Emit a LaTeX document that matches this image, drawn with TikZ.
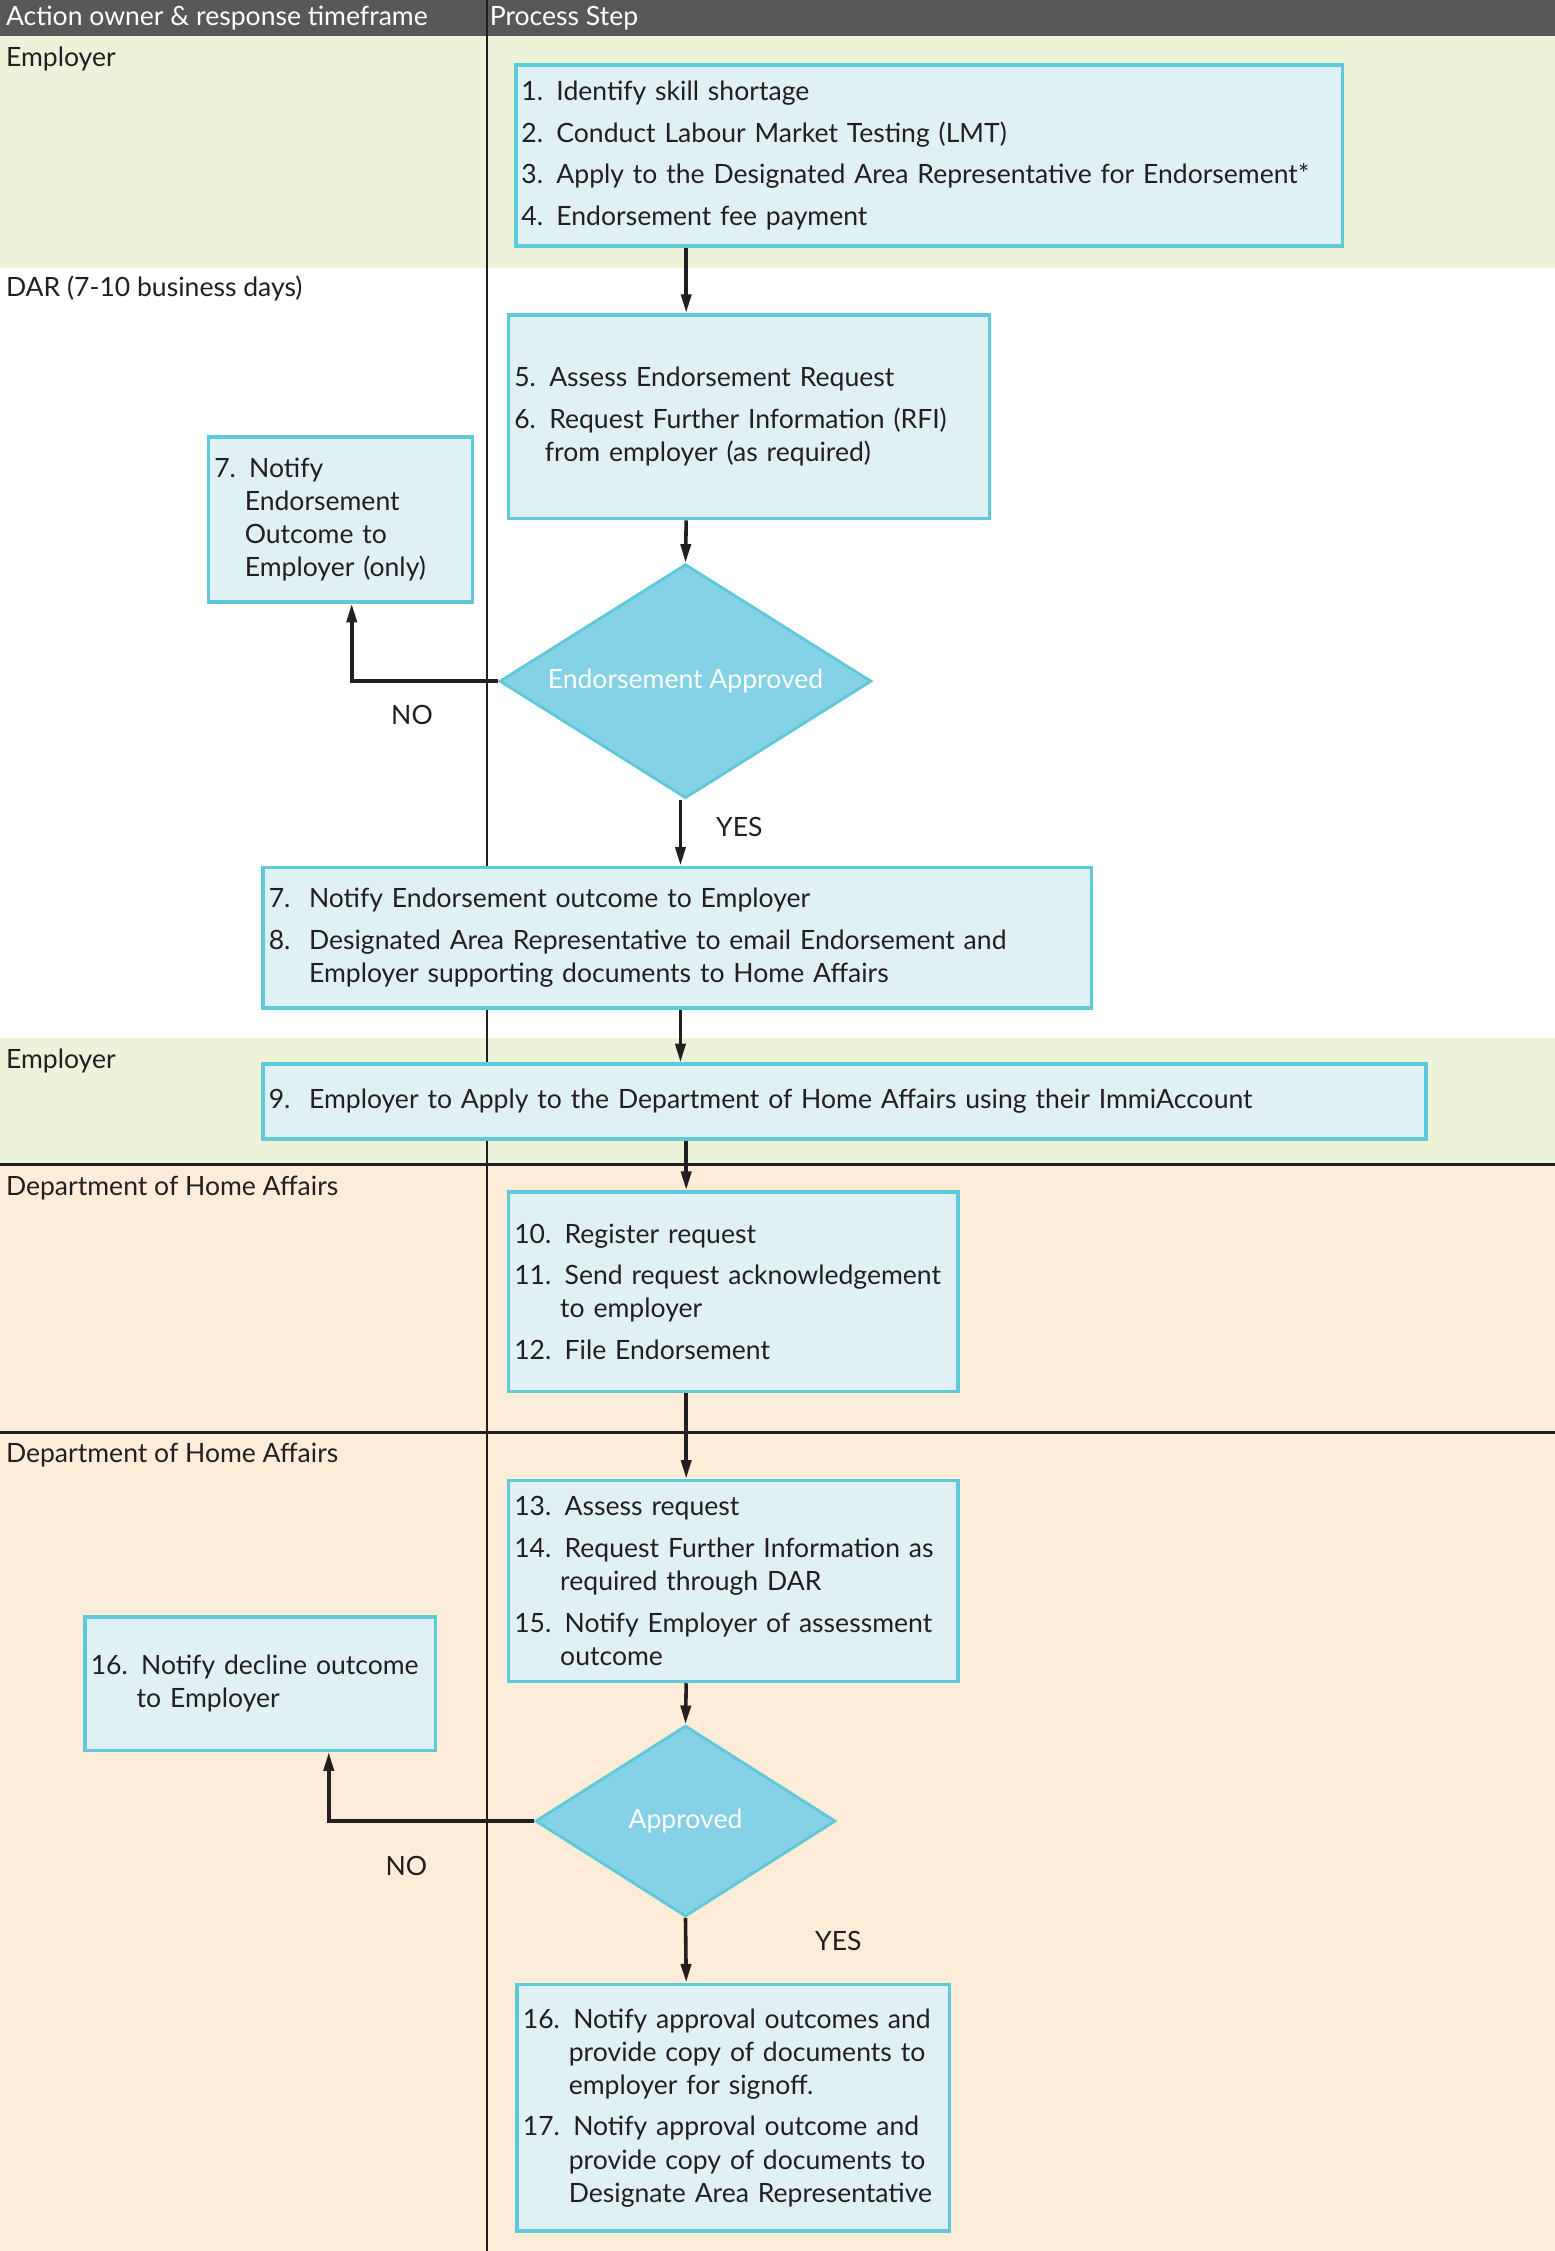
\documentclass[tikz,border=0pt]{standalone}
\usepackage{fontspec}
\setmainfont{Lato}
\usepackage{tikz}
\usetikzlibrary{shapes.geometric}
\usetikzlibrary{positioning}
\usetikzlibrary{arrows.meta}
\usepackage{xcolor}
\definecolor{hdrgray}{RGB}{88,88,90}
\definecolor{empgreen}{RGB}{236,243,216}
\definecolor{dhapeach}{RGB}{253,236,216}
\definecolor{boxfill}{RGB}{223,241,245}
\definecolor{boxline}{RGB}{96,201,217}
\definecolor{dfill}{RGB}{133,210,230}
\definecolor{inkc}{RGB}{35,31,32}
\newcommand{\ind}[1]{\phantom{#1~}}
\newcommand{\numcol}[1]{\makebox[28pt][l]{#1}}

\begin{document}
\begin{tikzpicture}[x=1pt,y=-1pt,
  every node/.style={font=\fontsize{18.5}{23}\selectfont,text=inkc},
  lane/.style={anchor=mid west,inner sep=0pt},
  stepbox/.style={draw=boxline,fill=boxfill,line width=2.5pt,anchor=north west,align=left,inner xsep=4pt,inner ysep=2pt},
  decision/.style={diamond,draw=boxline,fill=dfill,line width=2pt,inner sep=0pt,aspect=1.6,text=white},
  flow/.style={line width=2.5pt,draw=inkc,-{Triangle[length=13pt,width=7pt]}},
  ans/.style={inner sep=0pt}]
\useasboundingbox (0,0) rectangle (1083,1568);
% lanes
\fill[hdrgray] (0,0) rectangle (1083,25);
\fill[empgreen] (0,25) rectangle (1083,187);
\fill[empgreen] (0,723) rectangle (1083,811);
\fill[dhapeach] (0,811) rectangle (1083,1568);
\draw[inkc,line width=1.5pt] (339,0)--(339,1568);
\draw[inkc,line width=2pt] (0,811)--(1083,811);
\draw[inkc,line width=2pt] (0,998)--(1083,998);
\node[lane,text=white] (hdrowner) at (4,15.5) {Action owner \& response timeframe};
\node[lane,text=white] (hdrstep) at (341,15.5) {Process Step};
\node[lane] (laneemp) at (4,44) {Employer};
\node[lane] (lanedar) at (4,204) {DAR (7-10 business days)};
\node[lane] (laneempb) at (4,742) {Employer};
\node[lane] (lanedha) at (4,830) {Department of Home Affairs};
\node[lane] (lanedhab) at (4,1016) {Department of Home Affairs};

% steps
\node[stepbox,text width=568,minimum height=126] (apply) at (358,44)
  {1. Identify skill shortage\\[6pt]
   2. Conduct Labour Market Testing (LMT)\\[6pt]
   3. Apply to the Designated Area Representative for Endorsement*\\[6pt]
   4. Endorsement fee payment};
\node[stepbox,text width=327,minimum height=142] (assess) at (353,218)
  {5. Assess Endorsement Request\\[6pt]
   6. Request Further Information (RFI)\\
   \ind{6.}from employer (as required)};
\node[stepbox,text width=176,minimum height=115] (notifyno) at (144,303)
  {7. Notify\\
   \ind{7.}Endorsement\\
   \ind{7.}Outcome to\\
   \ind{7.}Employer (only)};
\node[decision,minimum width=259,minimum height=163] (endapp) at (477.5,474.5) {Endorsement Approved};
\node[stepbox,text width=569,minimum height=98] (notifyyes) at (182,603)
  {\numcol{7.}Notify Endorsement outcome to Employer\\[6pt]
   \numcol{8.}Designated Area Representative to email Endorsement and\\
   \numcol{}Employer supporting documents to Home Affairs};
\node[stepbox,text width=802,minimum height=52] (immi) at (182,740)
  {\numcol{9.}Employer to Apply to the Department of Home Affairs using their ImmiAccount};
\node[stepbox,text width=305,minimum height=139] (register) at (353,829)
  {10. Register request\\[6pt]
   11. Send request acknowledgement\\
   \ind{11.}to employer\\[6pt]
   12. File Endorsement};
\node[stepbox,text width=305,minimum height=140] (assessdha) at (353,1030)
  {13. Assess request\\[6pt]
   14. Request Further Information as\\
   \ind{14.}required through DAR\\[6pt]
   15. Notify Employer of assessment\\
   \ind{15.}outcome};
\node[stepbox,text width=236,minimum height=93] (decline) at (58,1125)
  {16. Notify decline outcome\\
   \ind{16.}to Employer};
\node[decision,minimum width=209,minimum height=133] (appr) at (477.5,1268.5) {Approved};
\node[stepbox,text width=293,minimum height=172] (grant) at (359,1381)
  {16. Notify approval outcomes and\\
   \ind{16.}provide copy of documents to\\
   \ind{16.}employer for signoff.\\[6pt]
   17. Notify approval outcome and\\
   \ind{17.}provide copy of documents to\\
   \ind{17.}Designate Area Representative};

% flow
\coordinate (spine) at (478,0);
\coordinate (spineb) at (474,0);
\coordinate (noa) at (245,0);
\coordinate (nob) at (229,0);
\draw[flow] (apply.south -| spine) -- (assess.north -| spine);
\draw[flow] (assess.south -| spine) -- (endapp.north);
\draw[flow] (endapp.west) -- (endapp.west -| noa) -- (notifyno.south -| noa);
\draw[flow] (endapp.south -| spineb) -- (notifyyes.north -| spineb);
\draw[flow] (notifyyes.south -| spineb) -- (immi.north -| spineb);
\draw[flow] (immi.south -| spine) -- (register.north -| spine);
\draw[flow] (register.south -| spine) -- (assessdha.north -| spine);
\draw[flow] (assessdha.south -| spine) -- (appr.north);
\draw[flow] (appr.west) -- (appr.west -| nob) -- (decline.south -| nob);
\draw[flow] (appr.south) -- (grant.north -| spine);
\node[ans] (noone) at (287,498) {NO};
\node[ans] (yesone) at (515,576) {YES};
\node[ans] (notwo) at (283,1300) {NO};
\node[ans] (yestwo) at (584,1352) {YES};
\end{tikzpicture}
\end{document}
